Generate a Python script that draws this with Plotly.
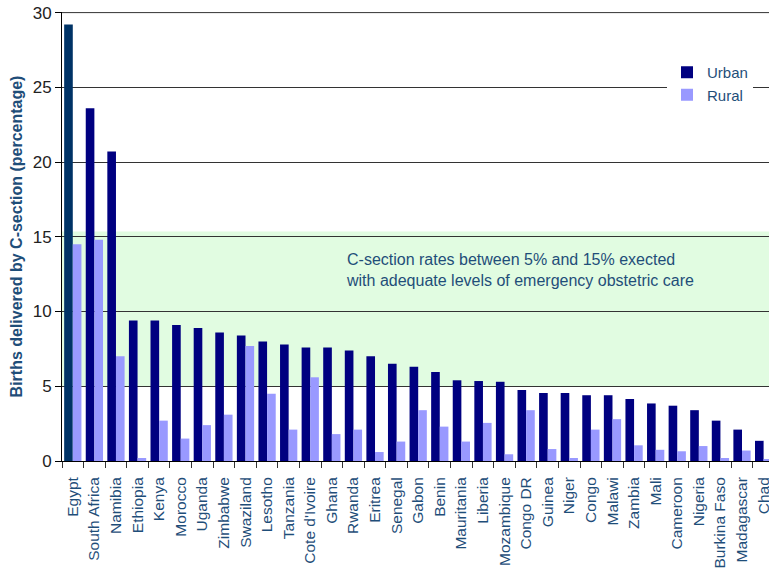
import plotly.graph_objects as go

countries = ["Egypt", "South Africa", "Namibia", "Ethiopia", "Kenya", "Morocco", "Uganda",
             "Zimbabwe", "Swaziland", "Lesotho", "Tanzania", "Cote d'Ivoire", "Ghana", "Rwanda",
             "Eritrea", "Senegal", "Gabon", "Benin", "Mauritania", "Liberia", "Mozambique",
             "Congo DR", "Guinea", "Niger", "Congo", "Malawi", "Zambia", "Mali", "Cameroon",
             "Nigeria", "Burkina Faso", "Madagascar", "Chad"]
urban = [29.2, 23.6, 20.7, 9.4, 9.4, 9.1, 8.9, 8.6, 8.4, 8.0, 7.8, 7.6, 7.6, 7.4, 7.0, 6.5,
         6.3, 5.95, 5.4, 5.35, 5.3, 4.75, 4.55, 4.55, 4.4, 4.4, 4.15, 3.85, 3.7, 3.4, 2.7, 2.1, 1.35]
rural = [14.5, 14.8, 7.0, 0.2, 2.7, 1.5, 2.4, 3.1, 7.7, 4.5, 2.1, 5.6, 1.8, 2.1, 0.6, 1.3,
         3.4, 2.3, 1.3, 2.55, 0.45, 3.4, 0.8, 0.2, 2.1, 2.8, 1.05, 0.75, 0.65, 1.0, 0.2, 0.7, 0.1]
band_low, band_high = 5, 15.35
yticks = [0, 5, 10, 15, 20, 25, 30]
y_top = 30

URBAN = "#000080"
URBAN_HI = "#003366"
RURAL = "#9999FF"
TXT = "#1F4E79"
FONT = "Arial, Liberation Sans, sans-serif"

W, H = 769, 569
L, T, B = 62, 12, 108
PW, PH = W - L, H - T - B

urban_colors = [URBAN_HI if i == 0 else URBAN for i in range(len(countries))]

fig = go.Figure()
fig.add_trace(go.Bar(x=countries, y=urban, name="Urban", offsetgroup="u",
                     showlegend=False, marker=dict(color=urban_colors, line_width=0)))
# legend entry for Urban (navy swatch)
fig.add_trace(go.Bar(x=[countries[0]], y=[0], name="Urban", offsetgroup="u", legendrank=1,
                     marker=dict(color=URBAN, line_width=0), hoverinfo="skip"))
fig.add_trace(go.Bar(x=countries, y=rural, name="Rural", offsetgroup="r", legendrank=2,
                     marker=dict(color=RURAL, line_width=0)))

fig.add_shape(type="rect", xref="paper", yref="y", x0=0, x1=1, y0=band_low, y1=band_high,
              fillcolor="#E1FCE1", line_width=0, layer="below")
# top gridline at 30
fig.add_shape(type="line", xref="paper", yref="y", x0=0, x1=1, y0=y_top, y1=y_top,
              line=dict(color="#333", width=1), layer="below")

fig.add_annotation(xref="paper", yref="y", x=(345 - L) / PW, y=12.75, xanchor="left", yanchor="middle",
                   text="C-section rates between 5% and 15% exected<br>with adequate levels of emergency obstetric care",
                   showarrow=False, align="left", borderpad=0, font=dict(family=FONT, size=16, color=TXT))

fig.update_layout(
    width=W, height=H,
    margin=dict(l=L, r=0, t=T, b=B, autoexpand=False),
    paper_bgcolor="white", plot_bgcolor="rgba(0,0,0,0)",
    barmode="group", bargap=0.2, bargroupgap=0,
    font=dict(family=FONT),
    showlegend=True,
    legend=dict(x=(667 - L) / PW, y=(T + PH - 56) / PH, xanchor="left", yanchor="top",
                bgcolor="white", font=dict(family=FONT, size=15, color=TXT),
                traceorder="normal", itemwidth=30),
)
fig.update_xaxes(
    range=[-0.5, 32.25], tickangle=-90, tickson="boundaries", ticks="outside", ticklen=6,
    tickcolor="#333", showline=True, linecolor="#000", showgrid=False, automargin=False,
    ticklabelstandoff=9, ticklabeloverflow="allow",
    tickfont=dict(family=FONT, size=15.5, color=TXT),
)
fig.update_yaxes(
    range=[0, 30.04], tickvals=yticks, ticks="outside", ticklen=6, tickcolor="#000",
    showline=True, linecolor="#000", showgrid=True, gridcolor="#333", gridwidth=1,
    zeroline=False, automargin=False, ticklabeloverflow="allow",
    tickfont=dict(family=FONT, size=17, color="#222"),
    title=dict(text="<b>Births delivered by C-section (percentage)</b>", standoff=6,
               font=dict(family=FONT, size=16, color=TXT)),
)

fig.write_html("out.html", config={"displayModeBar": False},
               post_script="document.body.style.margin='0px';")
